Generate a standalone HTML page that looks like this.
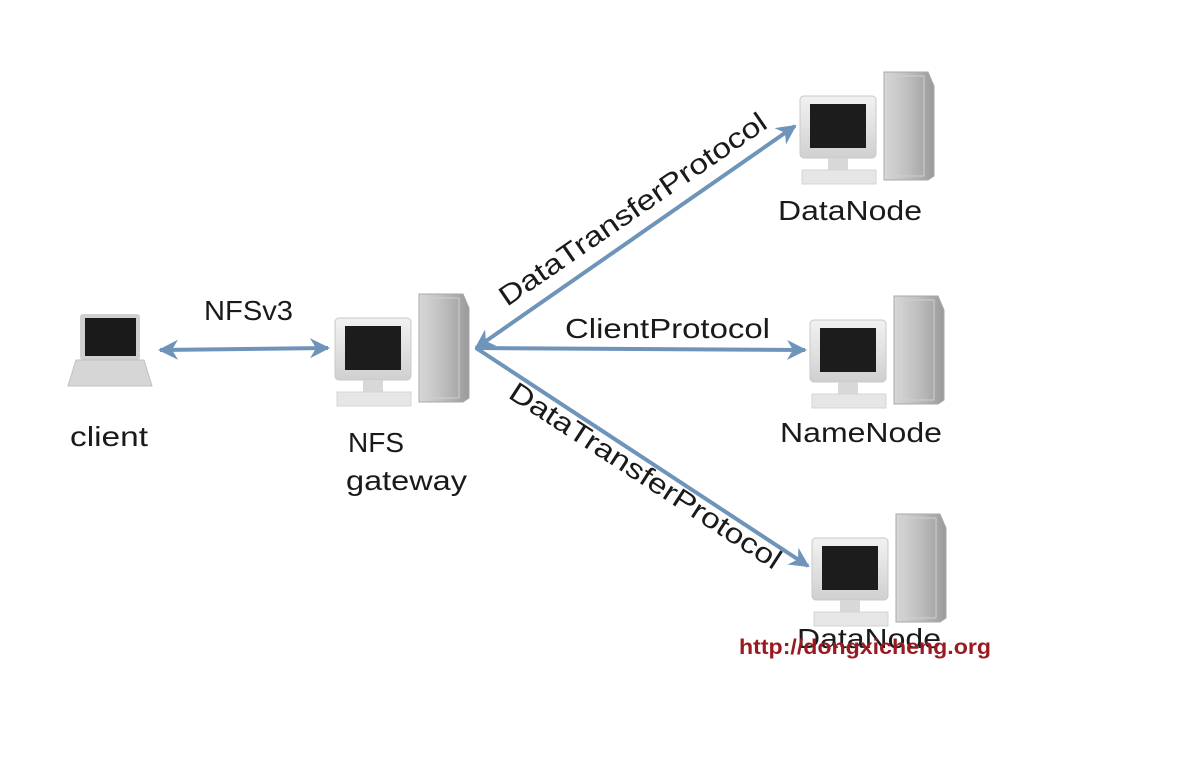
<!DOCTYPE html>
<html><head><meta charset="utf-8"><style>
html,body{margin:0;padding:0;background:#fff;}
svg{display:block}
text{font-family:"Liberation Sans",sans-serif;fill:#1a1a1a}
</style></head><body>
<svg width="1194" height="782" viewBox="0 0 1194 782" xmlns="http://www.w3.org/2000/svg">
<defs>
<linearGradient id="tw" x1="0" x2="1"><stop offset="0" stop-color="#d8d8d8"/><stop offset="0.5" stop-color="#bdbdbd"/><stop offset="1" stop-color="#9a9a9a"/></linearGradient>
<linearGradient id="mn" x1="0" x2="0" y1="0" y2="1"><stop offset="0" stop-color="#f2f2f2"/><stop offset="1" stop-color="#d0d0d0"/></linearGradient>
<g id="pc">
  <rect x="0" y="0" width="76" height="62" rx="4" fill="url(#mn)" stroke="#c8c8c8"/>
  <rect x="10" y="8" width="56" height="44" fill="#1c1c1c"/>
  <rect x="28" y="62" width="20" height="14" fill="#d8d8d8"/>
  <rect x="2" y="74" width="74" height="14" fill="#e6e6e6" stroke="#d4d4d4"/>
  <path d="M84 -24 L128 -24 L134 -10 L134 80 L128 84 L84 84 Z" fill="url(#tw)" stroke="#a8a8a8"/>
  <rect x="88" y="-20" width="36" height="100" fill="none" stroke="#cfcfcf"/>
</g>
<marker id="ah" viewBox="0 0 10 10" refX="9" refY="5" markerWidth="5" markerHeight="5" orient="auto-start-reverse"><path d="M0 0 L10 5 L0 10 L3 5 Z" fill="#6e94ba"/></marker>
</defs>

<rect x="80" y="314" width="60" height="46" rx="3" fill="#cfcfcf"/>
<rect x="85" y="318" width="51" height="38" fill="#1a1a1a"/>
<path d="M76 360 L144 360 L152 386 L68 386 Z" fill="#d6d6d6" stroke="#c0c0c0"/>

<use href="#pc" x="335" y="318"/>
<use href="#pc" x="800" y="96"/>
<use href="#pc" x="810" y="320"/>
<use href="#pc" x="812" y="538"/>

<g stroke="#6e94ba" stroke-width="4" fill="none">
<line x1="160" y1="350" x2="328" y2="348" marker-start="url(#ah)" marker-end="url(#ah)"/>
<line x1="476" y1="348" x2="795" y2="126" marker-start="url(#ah)" marker-end="url(#ah)"/>
<line x1="476" y1="348" x2="805" y2="350" marker-end="url(#ah)"/>
<line x1="476" y1="348" x2="808" y2="566" marker-end="url(#ah)"/>
</g>

<g font-size="28">
<text x="204" y="320" textLength="89" lengthAdjust="spacingAndGlyphs">NFSv3</text>
<text x="70" y="446" textLength="78" lengthAdjust="spacingAndGlyphs">client</text>
<text x="348" y="452" textLength="56" lengthAdjust="spacingAndGlyphs">NFS</text>
<text x="346" y="490" textLength="121" lengthAdjust="spacingAndGlyphs">gateway</text>
<text x="778" y="220" textLength="144" lengthAdjust="spacingAndGlyphs">DataNode</text>
<text x="780" y="442" textLength="162" lengthAdjust="spacingAndGlyphs">NameNode</text>
<text x="797" y="648" textLength="144" lengthAdjust="spacingAndGlyphs">DataNode</text>
<text x="565" y="338" textLength="205" lengthAdjust="spacingAndGlyphs">ClientProtocol</text>
<text x="0" y="0" transform="translate(507,307) rotate(-34.5)" textLength="318" lengthAdjust="spacingAndGlyphs">DataTransferProtocol</text>
<text x="0" y="0" transform="translate(507,397) rotate(33)" textLength="318" lengthAdjust="spacingAndGlyphs">DataTransferProtocol</text>
</g>
<text x="739" y="654" font-size="21" font-weight="bold" style="fill:#9b1a22" textLength="252" lengthAdjust="spacingAndGlyphs">http://dongxicheng.org</text>
</svg>
</body></html>
